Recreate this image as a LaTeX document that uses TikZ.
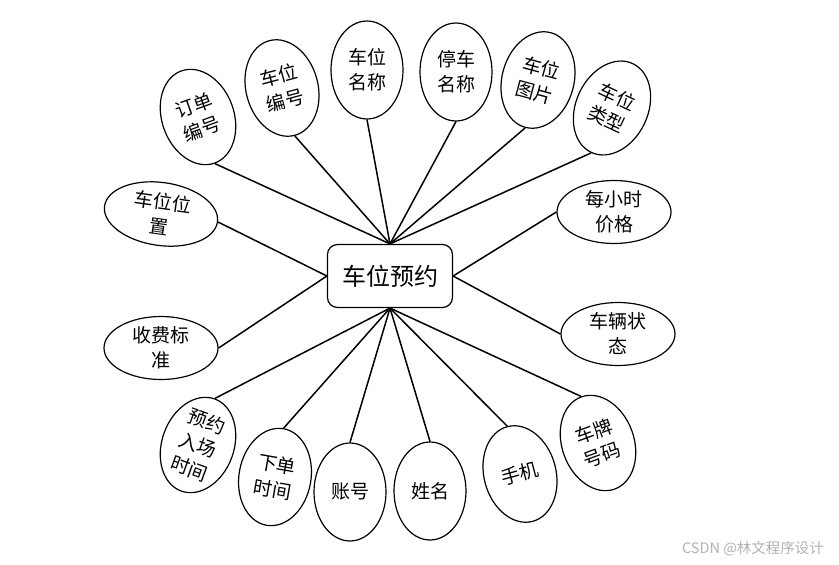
\documentclass[tikz,border=0pt]{standalone}
\usepackage{fontspec}
\setmainfont{Noto Sans CJK SC}
\usetikzlibrary{shapes.geometric}
\begin{document}
\begin{tikzpicture}[x=1pt,y=-1pt,
  tallattr/.style={ellipse,draw,line width=1.2pt,minimum width=72pt,minimum height=98pt,inner sep=0pt,align=center,font=\fontsize{19}{25}\selectfont},
  wideattr/.style={ellipse,draw,line width=1.2pt,minimum width=114pt,minimum height=63pt,inner sep=0pt,align=center,font=\fontsize{19}{25}\selectfont},
  entitybox/.style={draw,line width=1.2pt,rounded corners=10pt,minimum width=125pt,minimum height=63pt,inner sep=0pt,font=\fontsize{24}{28}\selectfont},
  link/.style={line width=1.5pt}]
\useasboundingbox (0,0) rectangle (839,565);
\node[entitybox] (c) at (390,276) {车位预约};
\node[tallattr,rotate=20] (e1) at (198,117) {订单\\编号};
\node[tallattr,rotate=15] (e2) at (282,88) {车位\\编号};
\node[tallattr] (e3) at (367,70) {车位\\名称};
\node[tallattr] (e4) at (456,72) {停车\\名称};
\node[tallattr,rotate=-15] (e5) at (538,80) {车位\\图片};
\node[tallattr,rotate=-25] (e6) at (612,108) {车位\\类型};
\node[wideattr] (e7) at (614,212) {每小时\\价格};
\node[wideattr,rotate=-8] (e8) at (161,214) {车位位\\置};
\node[wideattr] (e9) at (161,348) {收费标\\准};
\node[tallattr,rotate=-20] (e10) at (198,445) {预约\\入场\\时间};
\node[tallattr,rotate=-10] (e11) at (275,477) {下单\\时间};
\node[tallattr] (e12) at (350,492) {账号};
\node[tallattr] (e13) at (430,491) {姓名};
\node[wideattr] (e14) at (618,334) {车辆状\\态};
\node[tallattr,rotate=15] (e15) at (520,474) {手机};
\node[tallattr,rotate=20] (e16) at (598,443) {车牌\\号码};
\foreach \e in {e1,e2,e3,e4,e5,e6} \draw[link] (c.north) -- (\e.south);
\foreach \e in {e8,e9} \draw[link] (c.west) -- (\e.east);
\foreach \e in {e7,e14} \draw[link] (c.east) -- (\e.west);
\foreach \e in {e10,e11,e12,e13,e15,e16} \draw[link] (c.south) -- (\e.north);
\node[text=black!30,font=\fontsize{14.5}{16}\selectfont] (wm) at (753,549) {CSDN @林文程序设计};
\end{tikzpicture}
\end{document}
